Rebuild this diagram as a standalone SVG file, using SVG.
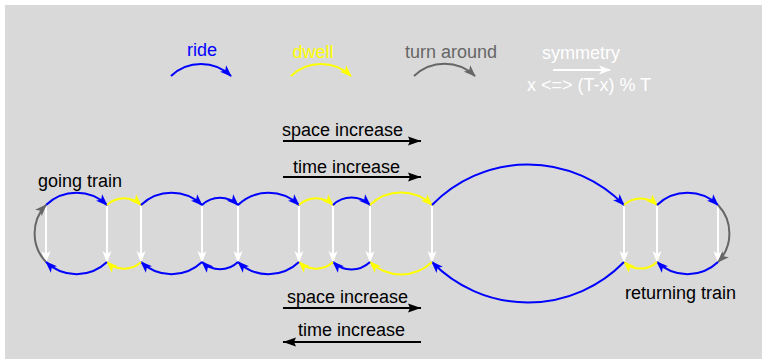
<svg xmlns="http://www.w3.org/2000/svg" width="762" height="359" viewBox="0 0 762 359">
<defs>
<style>
text{font-family:"Liberation Sans",Arial,sans-serif;font-size:18px}
.ride{fill:none;stroke:#0000ff;stroke-width:2;marker-end:url(#mb)}
.dwell{fill:none;stroke:#ffff00;stroke-width:2;marker-end:url(#my)}
.turn{fill:none;stroke:#666666;stroke-width:2;marker-end:url(#mg)}
.stop{fill:none;stroke:#ffffff;stroke-width:2;marker-end:url(#mw)}
.dir{fill:none;stroke:#000000;stroke-width:2;marker-end:url(#mk)}
</style>
<marker id="mb" viewBox="0 0 12 10" refX="11" refY="5" markerWidth="12" markerHeight="10" markerUnits="userSpaceOnUse" orient="auto"><path d="M0,0.5 L12,5 L0,9.5 L3,5 z" fill="#0000ff"/></marker>
<marker id="my" viewBox="0 0 12 10" refX="11" refY="5" markerWidth="12" markerHeight="10" markerUnits="userSpaceOnUse" orient="auto"><path d="M0,0.5 L12,5 L0,9.5 L3,5 z" fill="#ffff00"/></marker>
<marker id="mg" viewBox="0 0 12 10" refX="11" refY="5" markerWidth="12" markerHeight="10" markerUnits="userSpaceOnUse" orient="auto"><path d="M0,0.5 L12,5 L0,9.5 L3,5 z" fill="#666666"/></marker>
<marker id="mw" viewBox="0 0 12 10" refX="11" refY="5" markerWidth="12" markerHeight="10" markerUnits="userSpaceOnUse" orient="auto"><path d="M0,0.5 L12,5 L0,9.5 L3,5 z" fill="#ffffff"/></marker>
<marker id="mk" viewBox="0 0 13 10" refX="13" refY="5" markerWidth="13" markerHeight="10" markerUnits="userSpaceOnUse" orient="auto"><path d="M0,0.5 L13,5 L0,9.5 L2,5 z" fill="#000000"/></marker>
</defs>
<rect x="5" y="5" width="757" height="354" fill="#d9d9d9"/>

<g id="legend">
<text x="202" y="56" text-anchor="middle" fill="#0000ff">ride</text>
<path class="ride" d="M171,76 A43.5,43.5 0 0 1 231,76"/>
<text x="313" y="58" text-anchor="middle" fill="#ffff00">dwell</text>
<path class="dwell" d="M291,76 A43.5,43.5 0 0 1 351,76"/>
<text x="451" y="58" text-anchor="middle" fill="#666666">turn around</text>
<path class="turn" d="M414,76 A44,44 0 0 1 475,76"/>
<text x="581" y="59" text-anchor="middle" fill="#ffffff">symmetry</text>
<path class="stop" d="M553,70 L610,70"/>
<text x="589" y="91" text-anchor="middle" fill="#ffffff">x &lt;=&gt; (T-x) % T</text>
</g>

<g id="labels">
<text x="282" y="136">space increase</text>
<text x="293" y="173">time increase</text>
<text x="287" y="303">space increase</text>
<text x="298" y="336">time increase</text>
<text x="38" y="187">going train</text>
<text x="625" y="299">returning train</text>
</g>

<g id="nodes">
<g id="s1"><path class="stop" d="M46,206 L46,262"/></g>
<g id="s2"><path class="stop" d="M107,206 L107,262"/></g>
<g id="s3"><path class="stop" d="M141,206 L141,262"/></g>
<g id="s4"><path class="stop" d="M202,206 L202,262"/></g>
<g id="s5"><path class="stop" d="M238,206 L238,262"/></g>
<g id="s6"><path class="stop" d="M299,206 L299,262"/></g>
<g id="s7"><path class="stop" d="M333,206 L333,262"/></g>
<g id="s8"><path class="stop" d="M370,206 L370,262"/></g>
<g id="s9"><path class="stop" d="M432,206 L432,262"/></g>
<g id="s10"><path class="stop" d="M624,206 L624,262"/></g>
<g id="s11"><path class="stop" d="M657,206 L657,262"/></g>
<g id="s12"><path class="stop" d="M718,206 L718,262"/></g>
</g>

<g id="connectors">
<!-- direction arrows -->
<path class="dir" d="M283,141 L421,141"/>
<path class="dir" d="M283,177 L421,177"/>
<path class="dir" d="M283,308 L421,308"/>
<path class="dir" d="M421,342 L283,342"/>
<!-- going (top) -->
<path class="ride" d="M46,205 A44.2,44.2 0 0 1 107,205"/>
<path class="dwell" d="M107,205 A24.7,24.7 0 0 1 141,205"/>
<path class="ride" d="M141,205 A44.2,44.2 0 0 1 202,205"/>
<path class="ride" d="M202,205 A26,26 0 0 1 238,205"/>
<path class="ride" d="M238,205 A44.2,44.2 0 0 1 299,205"/>
<path class="dwell" d="M299,205 A24.7,24.7 0 0 1 333,205"/>
<path class="ride" d="M333,205 A26.8,26.8 0 0 1 370,205"/>
<path class="dwell" d="M370,205 A45,45 0 0 1 432,205"/>
<path class="ride" d="M432,205 A134,134 0 0 1 624,205"/>
<path class="dwell" d="M624,205 A23.9,23.9 0 0 1 657,205"/>
<path class="ride" d="M657,205 A44.2,44.2 0 0 1 718,205"/>
<!-- turn arounds -->
<path class="turn" d="M718,205 A41.3,41.3 0 0 1 718,262"/>
<path class="turn" d="M46,262 A41.3,41.3 0 0 1 46,205"/>
<!-- returning (bottom) -->
<path class="ride" d="M718,262 A44.2,44.2 0 0 1 657,262"/>
<path class="dwell" d="M657,262 A23.9,23.9 0 0 1 624,262"/>
<path class="ride" d="M624,262 A134,134 0 0 1 432,262"/>
<path class="dwell" d="M432,262 A45,45 0 0 1 370,262"/>
<path class="ride" d="M370,262 A26.8,26.8 0 0 1 333,262"/>
<path class="dwell" d="M333,262 A24.7,24.7 0 0 1 299,262"/>
<path class="ride" d="M299,262 A44.2,44.2 0 0 1 238,262"/>
<path class="ride" d="M238,262 A26,26 0 0 1 202,262"/>
<path class="ride" d="M202,262 A44.2,44.2 0 0 1 141,262"/>
<path class="dwell" d="M141,262 A24.7,24.7 0 0 1 107,262"/>
<path class="ride" d="M107,262 A44.2,44.2 0 0 1 46,262"/>
</g>
</svg>
